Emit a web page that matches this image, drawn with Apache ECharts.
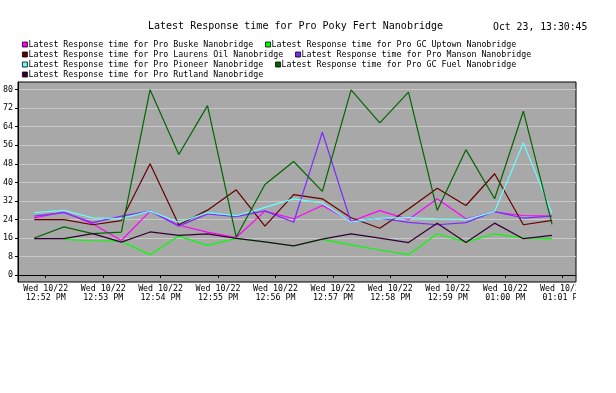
<!DOCTYPE html>
<html><head><meta charset="utf-8">
<script src="https://cdn.jsdelivr.net/npm/echarts@6/dist/echarts.min.js"></script>
<style>html,body{margin:0;padding:0;background:#fff}#c{width:616px;height:393px}</style>
</head><body><div id="c"></div>
<script>
const chartTitle = 'Latest Response time for Pro Poky Fert Nanobridge';
const stampText = 'Oct 23, 13:30:45';
const times = ['12:51:48','12:52:19','12:52:49','12:53:19','12:53:49','12:54:19','12:54:49','12:55:19','12:55:49','12:56:19','12:56:49','12:57:19','12:57:49','12:58:19','12:58:49','12:59:19','12:59:49','13:00:19','13:00:49'];
const seriesNames = [
  'Latest Response time for Pro Buske Nanobridge',
  'Latest Response time for Pro GC Uptown Nanobridge',
  'Latest Response time for Pro Laurens Oil Nanobridge',
  'Latest Response time for Pro Manson Nanobridge',
  'Latest Response time for Pro Pioneer Nanobridge',
  'Latest Response time for Pro GC Fuel Nanobridge',
  'Latest Response time for Pro Rutland Nanobridge'
];
const seriesColors = ['#ff00ff','#00ff00','#660000','#7a2cff','#66ffff','#006600','#330033'];
const buske   = [24.7,27.2,22.1,14.9,27.6,21.5,18.5,16.2,27.6,24.3,30.0,23.2,27.8,24.0,32.9,24.3,27.2,25.7,25.4];
const uptown  = [null,15.4,14.8,14.5,8.8,16.8,12.8,15.8,14.2,12.6,15.4,13.0,10.8,8.8,17.8,14.2,17.8,16.0,15.7];
const laurens = [23.9,23.9,21.7,23.5,48.0,21.7,28.0,36.8,21.1,34.7,32.9,24.7,20.2,28.5,37.5,30.0,43.7,21.7,23.6];
const manson  = [25.4,26.9,22.6,25.4,27.6,21.1,26.4,25.2,27.7,22.8,61.6,22.8,24.5,22.7,21.7,22.6,27.4,24.6,25.4];
const pioneer = [26.9,27.9,24.7,24.4,27.6,22.8,26.9,25.6,29.2,32.9,31.1,22.8,24.6,24.8,24.3,23.9,27.4,57.1,26.5];
const gcFuel  = [16.0,20.8,17.9,18.5,80.0,52.0,73.1,16.4,39.1,49.0,36.1,79.9,65.7,78.9,27.9,54.1,32.9,70.7,21.9];
const rutland = [15.7,15.7,17.9,14.2,18.6,17.1,17.8,15.8,14.3,12.6,15.5,17.8,15.9,14.0,22.4,14.0,22.4,15.7,17.1];
const seriesValues = [buske, uptown, laurens, manson, pioneer, gcFuel, rutland];
const xMinTime = '12:51:31';
const xMaxTime = '13:01:14';
const tickTimes = ['12:52:00','12:53:00','12:54:00','12:55:00','12:56:00','12:57:00','12:58:00','12:59:00','13:00:00','13:01:00'];
const tickLabels = ['Wed 10/22\n12:52 PM','Wed 10/22\n12:53 PM','Wed 10/22\n12:54 PM','Wed 10/22\n12:55 PM','Wed 10/22\n12:56 PM','Wed 10/22\n12:57 PM','Wed 10/22\n12:58 PM','Wed 10/22\n12:59 PM','Wed 10/22\n01:00 PM','Wed 10/22\n01:01 PM'];
const yTicks = [0,8,16,24,32,40,48,56,64,72,80];
const yMin = -3, yMax = 83.3;

const toSec = s => { const p = s.split(':').map(Number); return p[0]*3600 + p[1]*60 + p[2]; };
const tickSecs = tickTimes.map(toSec);
const FONT = 'DejaVu Sans Mono';

const chart = echarts.init(document.getElementById('c'), null, {renderer: 'canvas'});
const legendRows = [[0,1],[2,3],[4,5],[6]];
const legendTops = [39.5, 49.5, 59.5, 69.5];
chart.setOption({
  animation: false,
  backgroundColor: '#ffffff',
  graphic: [
    {type: 'text', left: 148, top: 21, z: 100, style: {text: chartTitle, font: '10px "DejaVu Sans Mono"', fill: '#000'}},
    {type: 'text', left: 493, top: 22, z: 100, style: {text: stampText, font: '9.8px "DejaVu Sans Mono"', fill: '#000'}},
    {type: 'rect', left: 576, top: 283, z: 100, shape: {width: 40, height: 25}, style: {fill: '#ffffff'}}
  ],
  legend: legendRows.map((row, r) => ({
    left: 22, top: legendTops[r], padding: 0, orient: 'horizontal', itemGap: 12,
    icon: 'rect', itemWidth: 5, itemHeight: 5,
    itemStyle: {borderColor: '#000', borderWidth: 0.8},
    selectedMode: false,
    data: row.map(i => seriesNames[i]),
    textStyle: {fontFamily: FONT, fontSize: 8.3, color: '#000', lineHeight: 10, padding: [0,0,0,-4]}
  })),
  grid: {left: 17, right: 40, top: 82, bottom: 111, show: true, backgroundColor: '#a8a8a8', borderColor: '#000', borderWidth: 1, containLabel: false},
  xAxis: {
    type: 'value', min: toSec(xMinTime), max: toSec(xMaxTime),
    axisLine: {show: true, lineStyle: {color: '#000', width: 1}},
    axisTick: {show: true, inside: false, length: 3, lineStyle: {color: '#000'}, customValues: tickSecs},
    splitLine: {show: false},
    axisLabel: {
      customValues: tickSecs, margin: 2, color: '#000', fontFamily: FONT, fontSize: 8.3, lineHeight: 9.5, align: 'center',
      formatter: v => { const i = tickSecs.indexOf(Math.round(v)); return i >= 0 ? tickLabels[i] : ''; }
    }
  },
  yAxis: {
    type: 'value', min: yMin, max: yMax,
    axisLine: {show: true, lineStyle: {color: '#000', width: 1}},
    axisTick: {show: true, inside: false, length: 3, lineStyle: {color: '#000'}, customValues: yTicks},
    splitLine: {show: true, lineStyle: {color: '#c8c8c8', width: 1}},
    axisLabel: {customValues: yTicks, margin: 5, color: '#000', fontFamily: FONT, fontSize: 8.3}
  },
  series: seriesNames.map((name, s) => ({
    name, type: 'line', showSymbol: false, symbol: 'none', color: seriesColors[s],
    lineStyle: {width: 1.2, color: seriesColors[s]},
    emphasis: {disabled: true},
    data: times.map((t, i) => [toSec(t), seriesValues[s][i]])
  }))
});
</script></body></html>
